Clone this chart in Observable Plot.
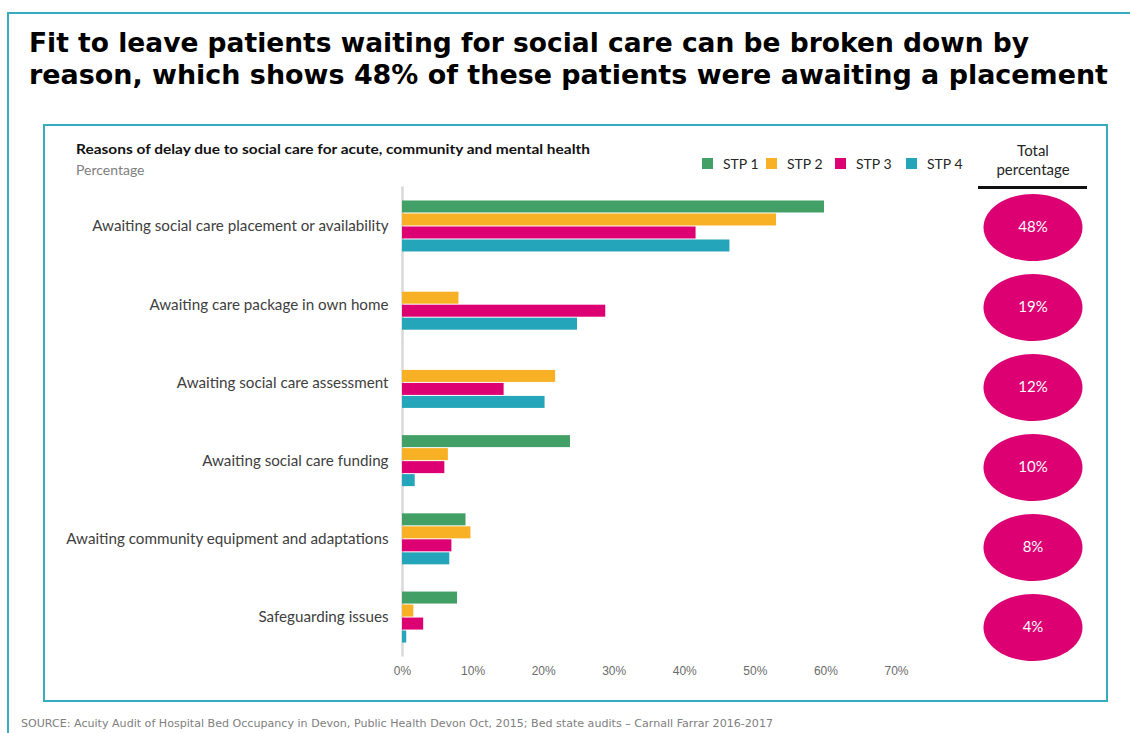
<!DOCTYPE html>
<html>
<head>
<meta charset="utf-8">
<script src="https://cdn.jsdelivr.net/npm/d3@7"></script>
<script src="https://cdn.jsdelivr.net/npm/@observablehq/plot@0.6"></script>
<style>
  html, body { margin: 0; padding: 0; background: #fff; }
  #page { position: relative; width: 1130px; height: 733px; overflow: hidden; background: #fff; }
  .abs { position: absolute; white-space: nowrap; line-height: 1; transform-origin: 0 0; }
  .plotwrap { position: absolute; left: 0; top: 0; }
  .plotwrap svg { background: transparent; }
</style>
</head>
<body>
<div id="page"></div>
<script>
// ---------- data ----------
const categories = [
  "Awaiting social care placement or availability",
  "Awaiting care package in own home",
  "Awaiting social care assessment",
  "Awaiting social care funding",
  "Awaiting community equipment and adaptations",
  "Safeguarding issues"
];
const series = ["STP 1", "STP 2", "STP 3", "STP 4"];
const stp1 = [59.8, 0, 0, 23.8, 9.0, 7.8];
const stp2 = [53.0, 8.0, 21.7, 6.5, 9.7, 1.6];
const stp3 = [41.6, 28.8, 14.4, 6.0, 7.0, 3.0];
const stp4 = [46.4, 24.8, 20.2, 1.8, 6.7, 0.6];
const totals = [48, 19, 12, 10, 8, 4];
const xTicks = [0, 10, 20, 30, 40, 50, 60, 70];
const colors = ["#42a066", "#f8b024", "#dc0073", "#25a5b9"];

const titleLines = [
  "Fit to leave patients waiting for social care can be broken down by",
  "reason, which shows 48% of these patients were awaiting a placement"
];
const chartTitle = "Reasons of delay due to social care for acute, community and mental health";
const chartSubtitle = "Percentage";
const totalHeader = ["Total", "percentage"];
const source = "SOURCE: Acuity Audit of Hospital Bed Occupancy in Devon, Public Health Devon Oct, 2015; Bed state audits \u2013 Carnall Farrar 2016-2017";

// ---------- build rows ----------
const seriesValues = [stp1, stp2, stp3, stp4];
const rows = [];
categories.forEach((c, i) => {
  seriesValues.forEach((arr, j) => rows.push({category: c, series: series[j], value: arr[i]}));
});
const totalRows = categories.map((c, i) => ({category: c, total: totals[i]}));

const page = document.getElementById("page");
function add(html, css) {
  const el = document.createElement("div");
  el.className = "abs";
  el.innerHTML = html;
  Object.assign(el.style, css);
  page.appendChild(el);
  return el;
}

// boxes
add("", {left: "7px", top: "12px", width: "1300px", height: "900px", border: "2px solid #35adbf", boxSizing: "border-box"});
add("", {left: "43px", top: "124px", width: "1065px", height: "578px", border: "2px solid #35adbf", boxSizing: "border-box"});

// main chart
const main = Plot.plot({
  width: 1130, height: 733,
  marginLeft: 402, marginRight: 234, marginTop: 186, marginBottom: 76,
  style: {background: "transparent", fontFamily: "'Liberation Sans', Arial, sans-serif", overflow: "visible"},
  x: {domain: [0, 70]},
  y: {domain: series, padding: 0, axis: null},
  fy: {domain: categories, paddingInner: 0.31, paddingOuter: 0.166, round: false},
  color: {domain: series, range: colors},
  marks: [
    Plot.ruleX([0], {stroke: "#d9d9d9", strokeWidth: 2.5, insetTop: -12.5, insetBottom: -12.5}),
    Plot.barX(rows.filter(d => d.value > 0), {x: "value", y: "series", fy: "category", fill: "series", insetTop: 0.5, insetBottom: 0.5}),
    Plot.axisX({ticks: xTicks, tickFormat: d => d + "%", tickSize: 0, tickPadding: 22, fontSize: 12, color: "#6b6b6b", label: null}),
    Plot.axisFy({anchor: "left", tickSize: 0, tickPadding: 14, label: null, fontSize: 15.2, color: "#404040", fontFamily: "Lato"})
  ]
});
const w1 = document.createElement("div"); w1.className = "plotwrap"; w1.appendChild(main); page.appendChild(w1);

// totals ellipses
const ellipse = {
  draw(ctx) {
    const rx = 49.5, ry = 33.5, k = 0.5523;
    ctx.moveTo(rx, 0);
    ctx.bezierCurveTo(rx, k * ry, k * rx, ry, 0, ry);
    ctx.bezierCurveTo(-k * rx, ry, -rx, k * ry, -rx, 0);
    ctx.bezierCurveTo(-rx, -k * ry, -k * rx, -ry, 0, -ry);
    ctx.bezierCurveTo(k * rx, -ry, rx, -k * ry, rx, 0);
    ctx.closePath();
  }
};
const tot = Plot.plot({
  width: 1130, height: 733,
  marginLeft: 983, marginRight: 48, marginTop: 226, marginBottom: 106,
  style: {background: "transparent", fontFamily: "Lato, sans-serif", overflow: "visible"},
  y: {type: "point", domain: categories, padding: 0, axis: null},
  marks: [
    Plot.dot(totalRows, {y: "category", frameAnchor: "middle", symbol: ellipse, r: 30, fill: "#dc0073", stroke: null}),
    Plot.text(totalRows, {y: "category", frameAnchor: "middle", text: d => d.total + "%", fill: "white", fontSize: 15, fontFamily: "Lato"})
  ]
});
const w2 = document.createElement("div"); w2.className = "plotwrap"; w2.appendChild(tot); page.appendChild(w2);

// texts
const fontTitle = {fontFamily: "'DejaVu Sans', Verdana, sans-serif", fontWeight: "bold", fontSize: "27px", color: "#000"};
const t1 = add(titleLines[0], Object.assign({left: "29px", top: "29px"}, fontTitle));
const t2 = add(titleLines[1], Object.assign({left: "29px", top: "60.5px"}, fontTitle));
const ct = add(chartTitle, {left: "76px", top: "143px", fontFamily: "Lato", fontWeight: "bold", fontSize: "13.5px", color: "#111"});
add(chartSubtitle, {left: "76px", top: "163px", fontFamily: "Lato", fontSize: "14px", color: "#808080"});

// legend
const legX = [702, 766, 835, 906];
series.forEach((s, i) => {
  add("", {left: legX[i] + "px", top: "158px", width: "11px", height: "11px", background: colors[i]});
  add(s, {left: (legX[i] + 21) + "px", top: "157px", fontFamily: "Lato", fontSize: "14px", color: "#262626"});
});

// total header
totalHeader.forEach((t, i) => {
  add(t, {left: "978px", width: "110px", textAlign: "center", top: (143 + i * 19) + "px", fontFamily: "Lato", fontSize: "15px", color: "#262626"});
});
add("", {left: "978px", top: "186px", width: "109px", height: "3px", background: "#111"});

// source
const src = add(source, {left: "21px", top: "718px", fontFamily: "'DejaVu Sans', Tahoma, sans-serif", fontSize: "11px", color: "#808080"});

function fit(el, target) {
  el.style.transform = "none";
  const w = el.getBoundingClientRect().width;
  if (w > 0) el.style.transform = "scaleX(" + (target / w) + ")";
}
function fitAll() {
  fit(t1, 1000);
  fit(t2, 1079);
  fit(ct, 514);
  fit(src, 752);
}
fitAll();
if (document.fonts && document.fonts.ready) document.fonts.ready.then(fitAll);
</script>
</body>
</html>
